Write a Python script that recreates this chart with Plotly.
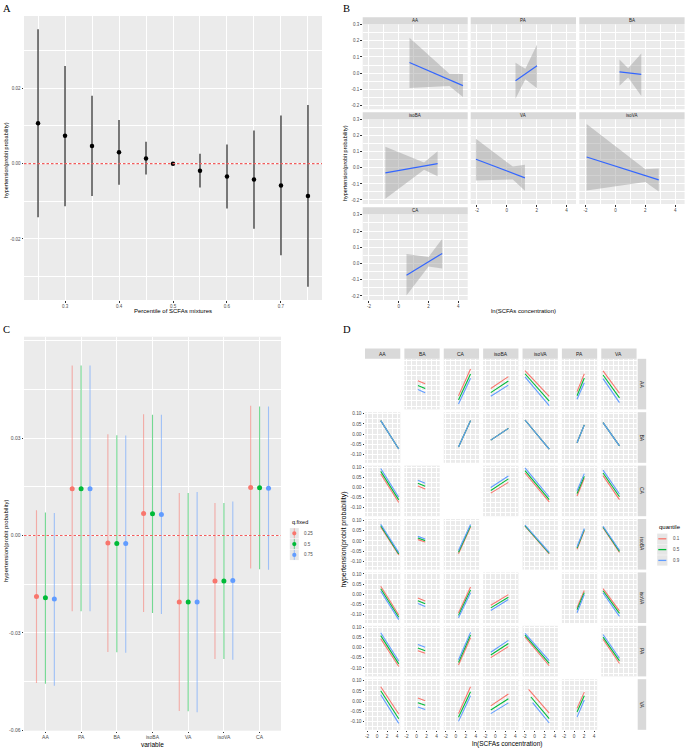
import plotly.graph_objects as go

# ======================= DATA =======================
# ---- Panel A : overall mixture effect by percentile
a_percentile = [0.25, 0.30, 0.35, 0.40, 0.45, 0.50, 0.55, 0.60, 0.65, 0.70, 0.75]
a_estimate = [0.0107, 0.0074, 0.0047, 0.0030, 0.0014, 0.0000, -0.0019, -0.0034, -0.0042, -0.0058, -0.0086]
a_lower = [-0.0142, -0.0113, -0.0086, -0.0056, -0.0029, 0.0000, -0.0063, -0.0119, -0.0173, -0.0243, -0.0327]
a_upper = [0.0357, 0.0259, 0.0180, 0.0116, 0.0058, 0.0000, 0.0026, 0.0051, 0.0088, 0.0128, 0.0156]
a_xticks = [0.3, 0.4, 0.5, 0.6, 0.7]
a_xticktext = ['0.3', '0.4', '0.5', '0.6', '0.7']
a_yticks = [-0.02, 0.0, 0.02]
a_yticktext = ['-0.02', '0.00', '0.02']

# ---- Panel B : univariate exposure-response (fit + 95% band)
b_vars = ['AA', 'PA', 'BA', 'isoBA', 'VA', 'isoVA', 'CA']
b_x = {'AA': [0.72, 3.4, 4.31], 'PA': [0.58, 1.24, 2.02], 'BA': [0.27, 0.85, 1.73],
       'isoBA': [-0.9, 1.7, 2.61], 'VA': [-2.07, 0.4, 1.21], 'isoVA': [-1.93, 2.0, 2.9],
       'CA': [0.52, 2.0, 2.92]}
b_fit = {'AA': [0.066, -0.042, -0.078], 'PA': [-0.0475, -0.006, 0.045], 'BA': [0.008, 0.002, -0.008],
         'isoBA': [-0.031, 0.012, 0.027], 'VA': [0.054, -0.033, -0.062], 'isoVA': [0.068, -0.048, -0.075],
         'CA': [-0.072, 0.011, 0.062]}
b_upper = {'AA': [0.219, -0.004, -0.006], 'PA': [0.064, 0.027, 0.178], 'BA': [0.085, 0.030, 0.122],
           'isoBA': [0.132, 0.034, 0.104], 'VA': [0.182, 0.008, 0.019], 'isoVA': [0.273, -0.008, -0.004],
           'CA': [0.058, 0.040, 0.153]}
b_lower = {'AA': [-0.093, -0.080, -0.149], 'PA': [-0.159, -0.038, -0.095], 'BA': [-0.079, -0.027, -0.143],
           'isoBA': [-0.193, -0.012, -0.052], 'VA': [-0.079, -0.072, -0.143], 'isoVA': [-0.141, -0.088, -0.147],
           'CA': [-0.197, -0.018, -0.031]}
b_xticks = [-2, 0, 2, 4]
b_xticktext = ['-2', '0', '2', '4']
b_yticks = [-0.2, -0.1, 0.0, 0.1, 0.2, 0.3]
b_yticktext = ['-0.2', '-0.1', '0.0', '0.1', '0.2', '0.3']

# ---- Panel C : single-exposure effects at fixed quantiles of others
c_vars = ['AA', 'PA', 'BA', 'isoBA', 'VA', 'isoVA', 'CA']
c_qfixed = ['0.25', '0.5', '0.75']
c_est = {'0.25': [-0.0188, 0.0144, -0.0023, 0.0068, -0.0205, -0.0140, 0.0148],
         '0.5':  [-0.0192, 0.0144, -0.0025, 0.0067, -0.0205, -0.0140, 0.0147],
         '0.75': [-0.0196, 0.0144, -0.0025, 0.0065, -0.0205, -0.0139, 0.0146]}
c_lower = {'0.25': [-0.0455, -0.0234, -0.0359, -0.0236, -0.0541, -0.0381, -0.0102],
           '0.5':  [-0.0457, -0.0234, -0.0360, -0.0239, -0.0542, -0.0381, -0.0104],
           '0.75': [-0.0463, -0.0234, -0.0362, -0.0242, -0.0545, -0.0383, -0.0106]}
c_upper = {'0.25': [0.0078, 0.0524, 0.0312, 0.0374, 0.0131, 0.0100, 0.0400],
           '0.5':  [0.0071, 0.0524, 0.0309, 0.0372, 0.0131, 0.0100, 0.0398],
           '0.75': [0.0069, 0.0524, 0.0308, 0.0372, 0.0134, 0.0105, 0.0398]}
c_yticks = [-0.06, -0.03, 0.0, 0.03]
c_yticktext = ['-0.06', '-0.03', '0.00', '0.03']

# ---- Panel D : bivariate exposure-response (row var fixed at quantile)
d_vars = ['AA', 'BA', 'CA', 'isoBA', 'isoVA', 'PA', 'VA']
d_quantiles = ['0.1', '0.5', '0.9']
d_xmin = {'AA': 0.72, 'BA': 0.27, 'CA': 0.52, 'isoBA': -0.9, 'isoVA': -1.93, 'PA': 0.6, 'VA': -2.07}
d_xmax = {'AA': 4.31, 'BA': 1.73, 'CA': 2.92, 'isoBA': 2.61, 'isoVA': 2.9, 'PA': 2.05, 'VA': 1.21}
# each cell: [q0.1 start, q0.1 end, q0.5 start, q0.5 end, q0.9 start, q0.9 end]
d_row_AA = [None,
            [0.000, -0.015, -0.024, -0.039, -0.043, -0.059],
            [-0.075, 0.057, -0.095, 0.033, -0.115, 0.012],
            [-0.039, 0.020, -0.059, -0.002, -0.077, -0.022],
            [0.049, -0.077, 0.034, -0.101, 0.019, -0.123],
            [-0.054, 0.034, -0.074, 0.013, -0.092, -0.010],
            [0.048, -0.062, 0.028, -0.085, 0.010, -0.108]]
d_row_BA = [[0.066, -0.074, 0.066, -0.074, 0.066, -0.074],
            None,
            [-0.064, 0.066, -0.064, 0.066, -0.064, 0.066],
            [-0.030, 0.028, -0.030, 0.028, -0.030, 0.028],
            [0.069, -0.074, 0.069, -0.074, 0.069, -0.074],
            [-0.043, 0.045, -0.043, 0.045, -0.043, 0.045],
            [0.056, -0.058, 0.056, -0.058, 0.056, -0.058]]
d_row_CA = [[0.066, -0.074, 0.079, -0.061, 0.093, -0.048],
            [0.007, -0.008, 0.021, 0.006, 0.035, 0.021],
            None,
            [-0.028, 0.025, -0.015, 0.042, 0.000, 0.056],
            [0.071, -0.071, 0.083, -0.060, 0.096, -0.047],
            [-0.042, 0.045, -0.030, 0.055, -0.016, 0.068],
            [0.058, -0.060, 0.071, -0.046, 0.085, -0.032]]
d_row_isoBA = [[0.068, -0.070, 0.075, -0.064, 0.082, -0.058],
               [0.006, -0.006, 0.014, 0.001, 0.022, 0.009],
               [-0.063, 0.068, -0.056, 0.074, -0.048, 0.080],
               None,
               [0.072, -0.064, 0.075, -0.061, 0.078, -0.057],
               [-0.041, 0.050, -0.036, 0.055, -0.029, 0.061],
               [0.065, -0.057, 0.068, -0.052, 0.072, -0.046]]
d_row_isoVA = [[0.039, -0.102, 0.027, -0.113, 0.015, -0.125],
               [-0.018, -0.033, -0.032, -0.047, -0.046, -0.060],
               [-0.092, 0.036, -0.104, 0.021, -0.116, 0.007],
               [-0.054, -0.002, -0.067, -0.015, -0.080, -0.026],
               None,
               [-0.066, 0.018, -0.076, 0.008, -0.091, -0.002],
               [0.028, -0.082, 0.017, -0.094, 0.006, -0.109]]
d_row_PA = [[0.044, -0.093, 0.059, -0.080, 0.073, -0.066],
            [-0.015, -0.028, -0.002, -0.015, 0.015, 0.002],
            [-0.085, 0.049, -0.073, 0.062, -0.060, 0.075],
            [-0.049, 0.005, -0.036, 0.020, -0.023, 0.036],
            [0.053, -0.089, 0.062, -0.077, 0.070, -0.064],
            None,
            [0.041, -0.078, 0.052, -0.065, 0.065, -0.052]]
d_row_VA = [[0.070, -0.064, 0.051, -0.087, 0.031, -0.110],
            [0.015, 0.001, -0.008, -0.021, -0.029, -0.042],
            [-0.062, 0.070, -0.080, 0.046, -0.100, 0.026],
            [-0.024, 0.035, -0.044, 0.011, -0.062, -0.009],
            [0.057, -0.059, 0.020, -0.087, -0.008, -0.108],
            [-0.036, 0.044, -0.054, 0.026, -0.079, 0.005],
            None]
# row VA / column isoVA curves start later for the upper quantiles
d_special_xstart = {('VA', 'isoVA'): [-1.21, -0.74, -0.41]}
d_xticks = [-2, 0, 2, 4]
d_xticktext = ['-2', '0', '2', '4']
d_yticks = [-0.10, -0.05, 0.0, 0.05, 0.10]
d_yticktext = ['-0.10', '-0.05', '0.00', '0.05', '0.10']

# ======================= STYLE / LAYOUT =======================
W, H = 685, 749
QCOL = ['#F8766D', '#00BA38', '#619CFF']
QCOL_A = ['rgba(248,118,109,0.55)', 'rgba(0,186,56,0.55)', 'rgba(97,156,255,0.55)']
FONT = 'Liberation Sans, Arial, sans-serif'
SERIF = 'Liberation Serif, Times New Roman, serif'
TICKC = '#4D4D4D'
STRIP = '#D9D9D9'

fig = go.Figure()
layout = dict(width=W, height=H, autosize=False, margin=dict(l=0, r=0, t=0, b=0, pad=0),
              paper_bgcolor='white', plot_bgcolor='#EBEBEB', showlegend=False,
              font=dict(family=FONT, color=TICKC))
shapes, annots = [], []
counter = [0]


def px(x):
    return x / W


def py(y):
    return 1 - y / H


def axis(tv, tt, show, minor_tick0=None, minor_dtick=None, fs=5):
    d = dict(tickmode='array', tickvals=tv, ticktext=tt, showgrid=True, gridcolor='white',
             gridwidth=0.8, zeroline=False, showline=False, showticklabels=show,
             ticks='outside' if show else '', ticklen=1.5, tickwidth=0.5, tickcolor='#333333',
             tickfont=dict(family=FONT, size=fs, color=TICKC), fixedrange=True, automargin=False)
    if minor_dtick is not None:
        d['minor'] = dict(tickmode='linear', tick0=minor_tick0, dtick=minor_dtick, showgrid=True,
                          gridcolor='white', gridwidth=0.35, ticks='')
    return d


def add_axes(x0, x1, y0, y1, xr, yr, xo, yo):
    counter[0] += 1
    k = counter[0]
    sfx = '' if k == 1 else str(k)
    xref, yref = 'x' + sfx, 'y' + sfx
    layout['xaxis' + sfx] = dict(domain=[px(x0), px(x1)], range=xr, anchor=yref, **xo)
    layout['yaxis' + sfx] = dict(domain=[py(y1), py(y0)], range=yr, anchor=xref, **yo)
    return xref, yref


def text(x, y, s, size, color='black', angle=0, family=FONT, xanchor='center', yanchor='middle'):
    annots.append(dict(x=px(x), y=py(y), xref='paper', yref='paper', text=s, showarrow=False,
                       textangle=angle, xanchor=xanchor, yanchor=yanchor,
                       font=dict(family=family, size=size, color=color)))


def rect(x0, y0, x1, y1, color):
    shapes.append(dict(type='rect', xref='paper', yref='paper', x0=px(x0), x1=px(x1),
                       y0=py(y1), y1=py(y0), fillcolor=color, line=dict(width=0), layer='above'))


def hline0(xref, yref):
    shapes.append(dict(type='line', xref=xref + ' domain', yref=yref, x0=0, x1=1, y0=0, y1=0,
                       line=dict(color='#F25C5C', width=1.1, dash='2.5px,2px'),
                       layer='above'))


# ---------------- Panel A ----------------
xa, ya = add_axes(24, 322, 16, 300, [0.224, 0.776], [-0.0362, 0.0392],
                  axis(a_xticks, a_xticktext, True, 0.25, 0.05, 4.5),
                  axis(a_yticks, a_yticktext, True, -0.03, 0.01, 4.5))
hline0(xa, ya)
fig.add_trace(go.Scatter(
    x=a_percentile, y=a_estimate, mode='markers', xaxis=xa, yaxis=ya,
    marker=dict(color='black', size=4.5),
    error_y=dict(type='data', symmetric=False,
                 array=[u - e for u, e in zip(a_upper, a_estimate)],
                 arrayminus=[e - l for e, l in zip(a_estimate, a_lower)],
                 width=0, thickness=1.3, color='#333333'),
    hoverinfo='skip'))
text(173, 310.8, 'Percentile of SCFAs mixtures', 6)
text(6, 160, 'hypertension(probit probability)', 5.5, angle=-90)
text(1, 1, 'A', 10.5, family=SERIF, xanchor='left', yanchor='top')

# ---------------- Panel B ----------------
b_cols_px = [(362.7, 467.7), (470.7, 576.0), (579.3, 684.6)]
b_rows_px = [(24.3, 109.3), (119.3, 204.0), (214.3, 300.0)]
b_xrange = [-2.42, 4.63]
b_yrange = [-0.225, 0.303]
for idx, v in enumerate(b_vars):
    r, c = divmod(idx, 3)
    x0, x1 = b_cols_px[c]
    y0, y1 = b_rows_px[r]
    show_x = (r == 2) or (r == 1 and c > 0)
    xr_, yr_ = add_axes(x0, x1, y0, y1, b_xrange, b_yrange,
                        axis(b_xticks, b_xticktext, show_x, -3, 1, 4.5),
                        axis(b_yticks, b_yticktext, c == 0, -0.25, 0.05, 4.5))
    rect(x0, y0 - 7, x1, y0, STRIP)
    text((x0 + x1) / 2, y0 - 3.5, v, 4.5, color='#1A1A1A')
    fig.add_trace(go.Scatter(x=b_x[v] + b_x[v][::-1], y=b_upper[v] + b_lower[v][::-1],
                             fill='toself', fillcolor='rgba(153,153,153,0.45)', line=dict(width=0),
                             mode='lines', xaxis=xr_, yaxis=yr_, hoverinfo='skip'))
    fig.add_trace(go.Scatter(x=b_x[v], y=b_fit[v], mode='lines', line=dict(color='#3366FF', width=1.2),
                             xaxis=xr_, yaxis=yr_, hoverinfo='skip'))
text(523, 310.5, 'ln(SCFAs concentration)', 6)
text(345, 163, 'hypertension(probit probability)', 5.5, angle=-90)
text(341, 1, 'B', 10.5, family=SERIF, xanchor='left', yanchor='top')

# ---------------- Panel C ----------------
c_pos = list(range(1, len(c_vars) + 1))
xc, yc = add_axes(24, 281, 336.7, 730.7, [0.4, 7.6], [-0.0602, 0.0613],
                  axis(c_pos, c_vars, True, None, None, 5),
                  axis(c_yticks, c_yticktext, True, -0.075, 0.015, 5))
hline0(xc, yc)
c_dodge = [-0.25, 0.0, 0.25]
for q, qf in enumerate(c_qfixed):
    fig.add_trace(go.Scatter(
        x=[p + c_dodge[q] for p in c_pos], y=c_est[qf], mode='markers', xaxis=xc, yaxis=yc,
        marker=dict(color=QCOL[q], size=5),
        error_y=dict(type='data', symmetric=False,
                     array=[u - e for u, e in zip(c_upper[qf], c_est[qf])],
                     arrayminus=[e - l for e, l in zip(c_est[qf], c_lower[qf])],
                     width=0, thickness=1.1, color=QCOL_A[q]),
        hoverinfo='skip'))
text(152.5, 744, 'variable', 6.5)
text(6, 541, 'hypertension(probit probability)', 6, angle=-90)
text(1, 322, 'C', 10.5, family=SERIF, xanchor='left', yanchor='top')
# legend C
text(289.5, 521.5, 'q.fixed', 5.5, xanchor='left')
for q, qf in enumerate(c_qfixed):
    yy = 533.3 + q * 10.8
    rect(289.8, yy - 5.2, 298.8, yy + 5.2, '#E6E6E6')
    shapes.append(dict(type='line', xref='paper', yref='paper', x0=px(294.3), x1=px(294.3),
                       y0=py(yy + 5), y1=py(yy - 5), line=dict(color=QCOL_A[q], width=1), layer='above'))
    shapes.append(dict(type='circle', xref='paper', yref='paper', x0=px(292.2), x1=px(296.4),
                       y0=py(yy + 2.1), y1=py(yy - 2.1), fillcolor=QCOL[q], line=dict(width=0),
                       layer='above'))
    text(301.5, yy, qf, 4.5, color=TICKC, xanchor='left')

# ---------------- Panel D ----------------
d_rows = {'AA': d_row_AA, 'BA': d_row_BA, 'CA': d_row_CA, 'isoBA': d_row_isoBA,
          'isoVA': d_row_isoVA, 'PA': d_row_PA, 'VA': d_row_VA}
D_LEFT, D_DX, D_W = 365.0, 39.38, 35.3
D_TOP, D_DY, D_H = 358.8, 53.4, 50.6
d_xrange = [-2.42, 4.62]
d_yrange = [-0.1415, 0.1075]
n = len(d_vars)
for j, rv in enumerate(d_vars):
    for i, cv in enumerate(d_vars):
        x0 = D_LEFT + i * D_DX
        y0 = D_TOP + j * D_DY
        xr_, yr_ = add_axes(x0, x0 + D_W, y0, y0 + D_H, d_xrange, d_yrange,
                            axis(d_xticks, d_xticktext, j == n - 1, -3, 1, 4.8),
                            axis(d_yticks, d_yticktext, i == 0, -0.125, 0.025, 4.8))
        cell = d_rows[rv][i]
        if cell is None:
            continue
        for q in range(3):
            xs = [d_xmin[cv], d_xmax[cv]]
            if (rv, cv) in d_special_xstart:
                xs[0] = d_special_xstart[(rv, cv)][q]
            fig.add_trace(go.Scatter(x=xs, y=[cell[2 * q], cell[2 * q + 1]], mode='lines',
                                     line=dict(color=QCOL[q], width=1.1),
                                     xaxis=xr_, yaxis=yr_, hoverinfo='skip'))
# strips
for i, cv in enumerate(d_vars):
    x0 = D_LEFT + i * D_DX
    rect(x0, 348.5, x0 + D_W, D_TOP, STRIP)
    text(x0 + D_W / 2, (348.5 + D_TOP) / 2, cv, 5, color='#1A1A1A')
for j, rv in enumerate(d_vars):
    y0 = D_TOP + j * D_DY
    rect(637.7, y0, 646.2, y0 + D_H, STRIP)
    text(642, y0 + D_H / 2, rv, 5, color='#1A1A1A', angle=90)
text(506.7, 744, 'ln(SCFAs concentration)', 6.5)
text(343.5, 540, 'hypertension(probit probability)', 7, angle=-90)
text(341, 322, 'D', 10.5, family=SERIF, xanchor='left', yanchor='top')
# legend D
text(656.5, 527.3, 'quantile', 6, xanchor='left')
for q, qn in enumerate(d_quantiles):
    yy = 538.8 + q * 10.8
    rect(657.2, yy - 5.2, 667.4, yy + 5.2, '#E6E6E6')
    shapes.append(dict(type='line', xref='paper', yref='paper', x0=px(658.3), x1=px(666.3),
                       y0=py(yy), y1=py(yy), line=dict(color=QCOL[q], width=1.3), layer='above'))
    text(670.5, yy, qn, 4.5, color=TICKC, xanchor='left')

layout['shapes'] = shapes
layout['annotations'] = annots
fig.update_layout(**layout)
fig.write_html('out.html', config={'displayModeBar': False, 'responsive': False},
               default_width=W, default_height=H,
               post_script="document.body.style.margin='0';document.body.style.padding='0';")
